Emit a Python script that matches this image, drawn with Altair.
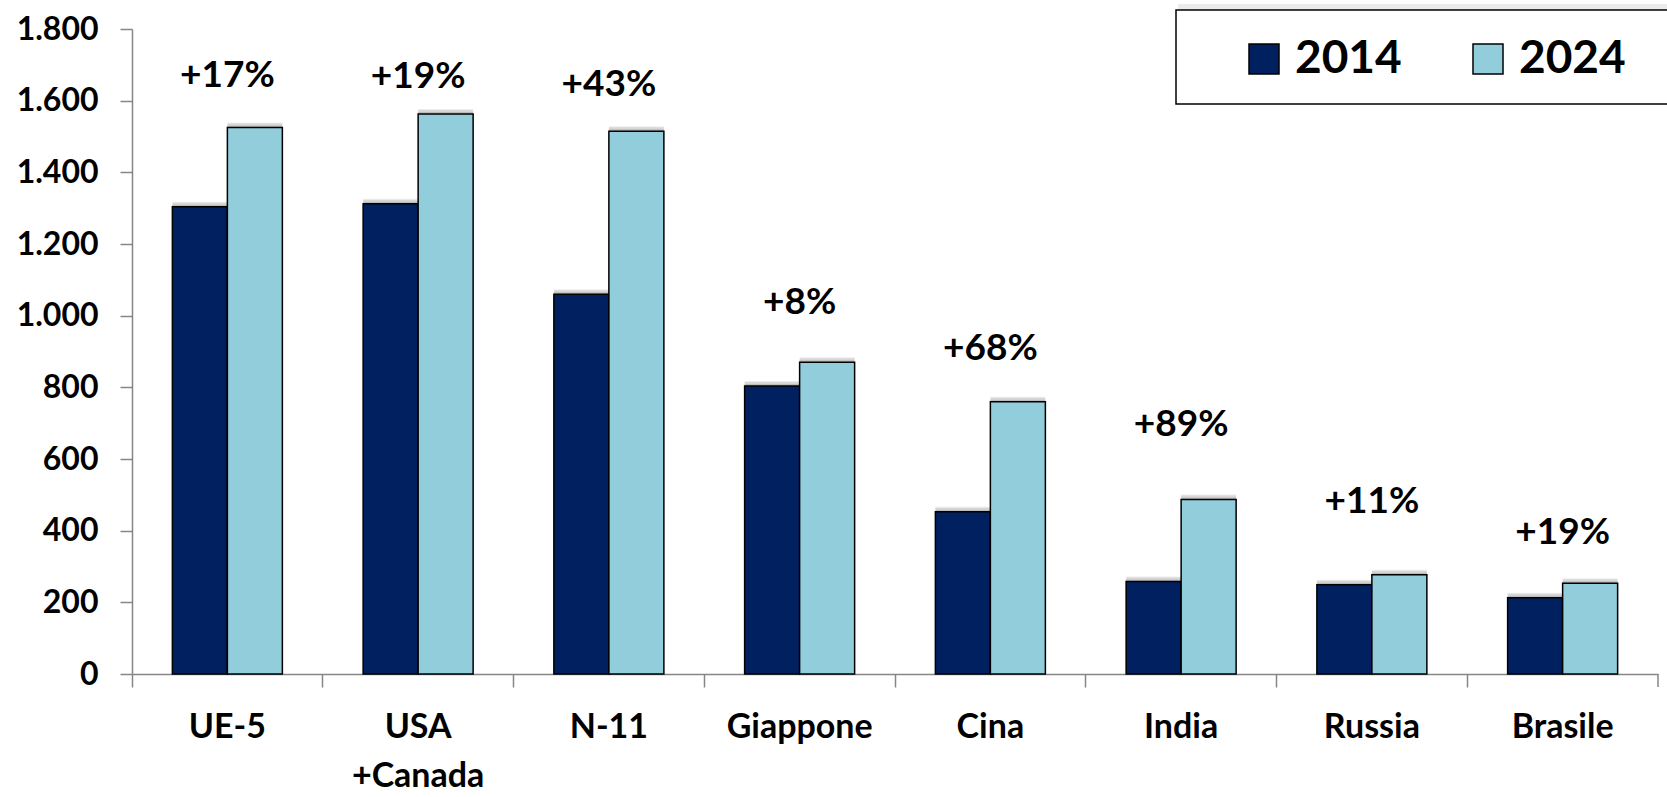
import altair as alt
import pandas as pd

# Values per region (thousand units), 2014 vs 2024
regions = ["UE-5", "USA +Canada", "N-11", "Giappone", "Cina", "India", "Russia", "Brasile"]
values_2014 = [1304, 1312, 1060, 804, 453, 258, 249, 213]
values_2024 = [1525, 1563, 1515, 870, 760, 487, 277, 253]
growth_labels = ["+17%", "+19%", "+43%", "+8%", "+68%", "+89%", "+11%", "+19%"]
label_heights = [1669, 1667, 1644, 1035, 908, 695, 481, 393]
years = ["2014", "2024"]
y_ticks = list(range(0, 1801, 200))

bars_df = pd.DataFrame(
    [{"region": r, "year": "2014", "value": v} for r, v in zip(regions, values_2014)]
    + [{"region": r, "year": "2024", "value": v} for r, v in zip(regions, values_2024)]
)
labels_df = pd.DataFrame({"region": regions, "label": growth_labels, "height": label_heights})

FONT = "Lato"
AXIS_GRAY = "#868686"
W, H = 1526, 645

x_enc = alt.X(
    "region:N",
    sort=regions,
    title=None,
    scale=alt.Scale(paddingInner=0, paddingOuter=0),
    axis=alt.Axis(
        bandPosition=0,
        labelAngle=0,
        labelFont=FONT,
        labelFontWeight="bold",
        labelFontSize=34,
        labelColor="black",
        labelPadding=23,
        labelLineHeight=49,
        labelExpr="split(datum.label, ' ')",
        domainColor=AXIS_GRAY,
        domainWidth=1.5,
        tickColor=AXIS_GRAY,
        tickWidth=1.5,
        tickSize=13,
    ),
)

y_scale = alt.Scale(domain=[0, 1800], nice=False)
y_axis = alt.Axis(
    values=y_ticks,
    labelExpr="replace(format(datum.value, ','), ',', '.')",
    labelFont=FONT,
    labelFontWeight="bold",
    labelFontSize=32,
    labelColor="black",
    labelPadding=22,
    domainColor=AXIS_GRAY,
    domainWidth=1.5,
    tickColor=AXIS_GRAY,
    tickWidth=1.5,
    tickSize=12,
    grid=False,
)

x_off = alt.XOffset(
    "year:N",
    sort=years,
    scale=alt.Scale(domain=years, paddingInner=0, paddingOuter=0.734),
)

base = alt.Chart(bars_df)
y_val = alt.Y("value:Q", scale=y_scale, axis=y_axis, title=None)

# soft drop shadow built from a few offset translucent copies
shadow_far = base.mark_bar(color="#000000", opacity=0.07, xOffset=7, yOffset=-5).encode(
    x=x_enc, xOffset=x_off, y=y_val
)
shadow_mid = base.mark_bar(color="#000000", opacity=0.09, xOffset=5, yOffset=-4).encode(
    x=x_enc, xOffset=x_off, y=y_val
)
shadow_near = base.mark_bar(color="#000000", opacity=0.12, xOffset=3, yOffset=-2).encode(
    x=x_enc, xOffset=x_off, y=y_val
)

bars = base.mark_bar(stroke="black", strokeWidth=1.5).encode(
    x=x_enc,
    xOffset=x_off,
    y=y_val,
    color=alt.Color(
        "year:N",
        scale=alt.Scale(domain=years, range=["#002060", "#92CDDC"]),
        legend=alt.Legend(
            title=None,
            orient="none",
            legendX=1109,
            legendY=7,
            direction="horizontal",
            symbolType="square",
            symbolSize=900,
            symbolStrokeColor="black",
            symbolStrokeWidth=1.5,
            labelFont=FONT,
            labelFontWeight="bold",
            labelFontSize=46,
            labelColor="black",
            labelOffset=8,
            columnPadding=63,
            padding=0,
        ),
    ),
)

growth = alt.Chart(labels_df).mark_text(
    font=FONT, fontWeight="bold", fontSize=37, color="black", baseline="middle"
).encode(
    x=x_enc,
    y=alt.Y("height:Q", scale=y_scale, axis=y_axis, title=None),
    text="label:N",
)

# closing tick at the right end of the category axis
end_tick = alt.Chart(alt.Data(values=[{}])).mark_rule(
    color=AXIS_GRAY, strokeWidth=1.5
).encode(x=alt.value(W), y=alt.value(H), y2=alt.value(H + 13))

# frame behind the legend entries, with a faint shadow along its top
legend_shadow = alt.Chart(alt.Data(values=[{}])).mark_rect(
    fill="#000000", opacity=0.08
).encode(x=alt.value(1046), x2=alt.value(1580), y=alt.value(-25), y2=alt.value(70))

legend_box = alt.Chart(alt.Data(values=[{}])).mark_rect(
    fill="white", stroke="black", strokeWidth=1.5
).encode(x=alt.value(1044), x2=alt.value(1580), y=alt.value(-19), y2=alt.value(75))

chart = alt.layer(
    legend_shadow, legend_box, shadow_far, shadow_mid, shadow_near, bars, growth, end_tick
).properties(
    width=W,
    height=H,
    autosize=alt.AutoSizeParams(type="none"),
    padding={"left": 132, "top": 29, "right": 9, "bottom": 123},
    background="white",
).configure_view(stroke=None)

chart.save("out.html", embed_options={"renderer": "svg", "actions": False})
